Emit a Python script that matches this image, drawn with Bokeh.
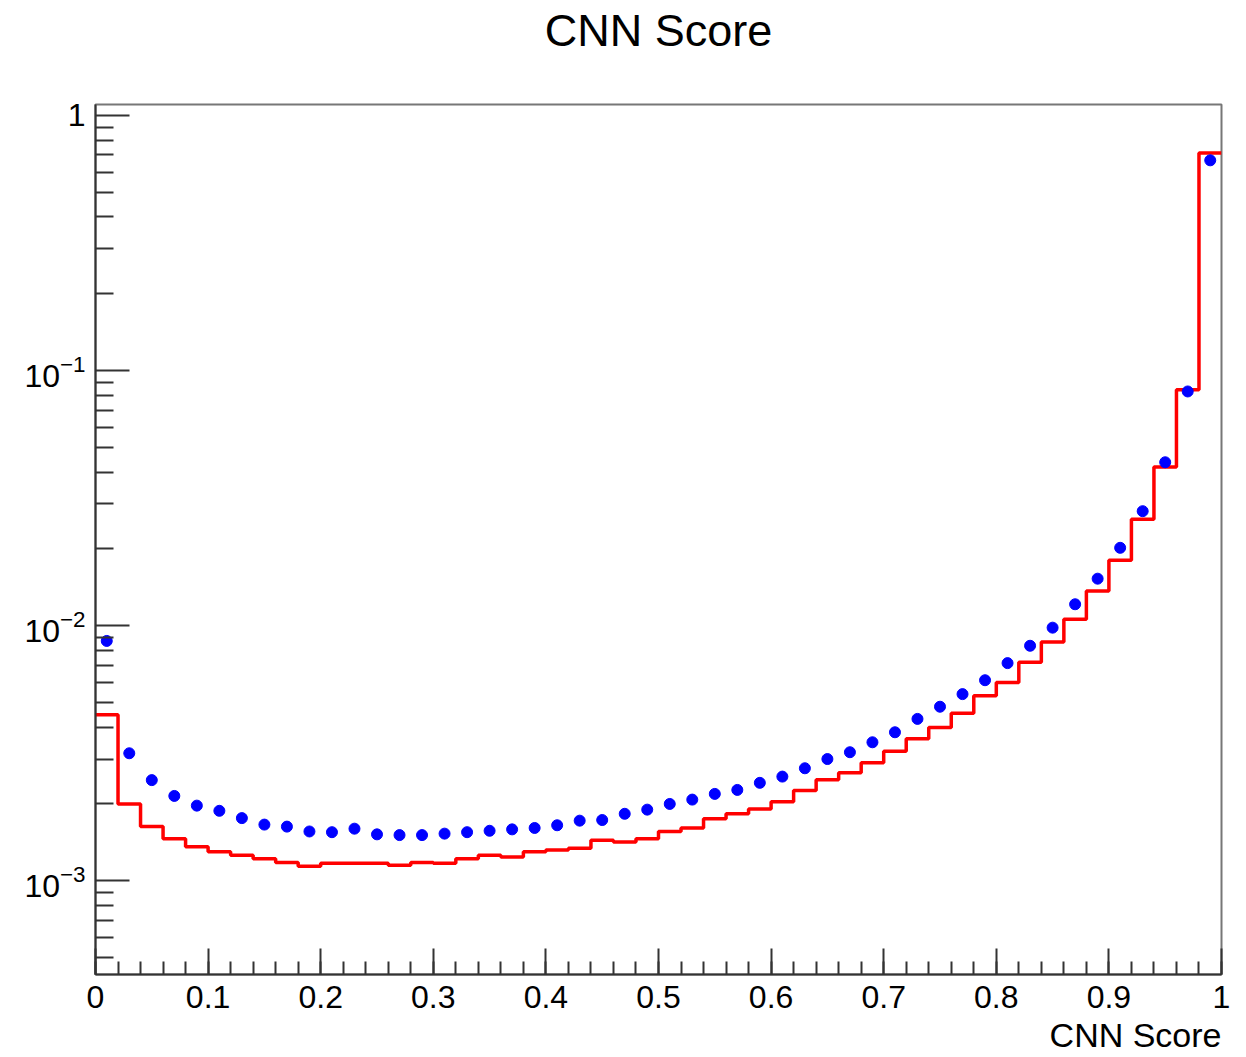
from bokeh.plotting import figure
from bokeh.models import FixedTicker, Title, ColumnDataSource, Range1d
from bokeh.embed import file_html
from bokeh.resources import INLINE

# Histogram binning: 50 bins of width 0.02 on [0, 1]
bin_edges = [round(i * 0.02, 2) for i in range(51)]
bin_centers = [round(0.01 + i * 0.02, 2) for i in range(50)]

# Normalised CNN score distribution, drawn as a red step histogram
red_values = [
    0.00447, 0.00200, 0.00163, 0.00146, 0.00136, 0.00130, 0.00126, 0.00122, 0.00118, 0.00114,
    0.00117, 0.00117, 0.00117, 0.00115, 0.00118, 0.00117, 0.00122, 0.00126, 0.00124, 0.00130,
    0.00132, 0.00134, 0.00144, 0.00142, 0.00146, 0.00156, 0.00161, 0.00175, 0.00183, 0.00191,
    0.00204, 0.00226, 0.00249, 0.00265, 0.00290, 0.00322, 0.00360, 0.00399, 0.00454, 0.00531,
    0.00599, 0.00718, 0.00863, 0.01059, 0.01367, 0.01803, 0.0261, 0.0419, 0.0841, 0.712,
]

# Second distribution, drawn as blue markers at bin centres
blue_values = [
    0.00871, 0.00316, 0.00248, 0.00215, 0.00197, 0.00188, 0.00176, 0.00166, 0.00163, 0.00156,
    0.00155, 0.00160, 0.00152, 0.00151, 0.00151, 0.00153, 0.00155, 0.00157, 0.00159, 0.00161,
    0.00165, 0.00172, 0.00173, 0.00183, 0.00190, 0.00200, 0.00208, 0.00219, 0.00227, 0.00242,
    0.00256, 0.00276, 0.00300, 0.00319, 0.00349, 0.00382, 0.00431, 0.00481, 0.00539, 0.00611,
    0.00713, 0.00834, 0.00982, 0.01213, 0.01528, 0.02019, 0.0281, 0.0437, 0.0828, 0.667,
]

x_major_ticks = [round(i * 0.1, 1) for i in range(11)]
x_minor_ticks = [round(i * 0.02, 2) for i in range(51)]
y_major_ticks = [1e-3, 1e-2, 1e-1, 1.0]
y_minor_ticks = [m * 10.0 ** e for e in (-4, -3, -2, -1) for m in range(2, 10)]

FONT = "Liberation Sans"

p = figure(
    width=1246, height=1057,
    y_axis_type="log",
    x_range=Range1d(0, 1),
    y_range=Range1d(4.29e-4, 1.104),
    output_backend="svg", toolbar_location=None,
    min_border_left=95, min_border_right=25, min_border_top=104, min_border_bottom=81,
    background_fill_color="white", border_fill_color="white",
)

p.title.text = "CNN Score"
p.title.align = "center"
p.title.text_font = FONT
p.title.text_font_size = "45px"
p.title.text_font_style = "normal"
p.title.text_color = "black"
p.title.standoff = 4

# blank band between the title and the frame
gap = Title(text=" ", text_font_size="10px", standoff=34)
p.add_layout(gap, "above")

p.xgrid.visible = False
p.ygrid.visible = False
p.outline_line_color = "#777777"
p.outline_line_width = 2

# step outline of the histogram
step_x, step_y = [], []
for lo, hi, v in zip(bin_edges[:-1], bin_edges[1:], red_values):
    step_x += [lo, hi]
    step_y += [v, v]
p.line(step_x, step_y, line_color="#ff0000", line_width=3.5)

src = ColumnDataSource(dict(x=bin_centers, y=blue_values))
p.scatter("x", "y", source=src, size=11, fill_color="#0000ff", line_color="#0000ff")

# x axis
xa = p.xaxis[0]
xa.ticker = FixedTicker(ticks=x_major_ticks, minor_ticks=x_minor_ticks)
xa.major_label_overrides = {0: "0", 1: "1"}
xa.major_tick_in = 26
xa.major_tick_out = 0
xa.minor_tick_in = 13
xa.minor_tick_out = 0
xa.axis_line_color = "#333333"
xa.axis_line_width = 2
xa.major_tick_line_color = "#333333"
xa.minor_tick_line_color = "#333333"
xa.major_tick_line_width = 2
xa.minor_tick_line_width = 2
xa.major_label_text_font = FONT
xa.major_label_text_font_size = "32px"
xa.major_label_text_color = "black"
xa.major_label_standoff = 11

# y axis
ya = p.yaxis[0]
ya.ticker = FixedTicker(ticks=y_major_ticks, minor_ticks=y_minor_ticks)
ya.major_label_overrides = {1: "1"}
ya.major_tick_in = 34
ya.major_tick_out = 0
ya.minor_tick_in = 18
ya.minor_tick_out = 0
ya.axis_line_color = "#333333"
ya.axis_line_width = 2
ya.major_tick_line_color = "#333333"
ya.minor_tick_line_color = "#333333"
ya.major_tick_line_width = 2
ya.minor_tick_line_width = 2
ya.major_label_text_font = FONT
ya.major_label_text_font_size = "32px"
ya.major_label_text_color = "black"
ya.major_label_standoff = 10

# x axis title, right-aligned under the axis
xt = Title(text="CNN Score", align="right", text_font=FONT, text_font_size="34px",
           text_font_style="normal", text_color="black", standoff=7)
p.add_layout(xt, "below")

open("out.html", "w").write(file_html(p, INLINE))
